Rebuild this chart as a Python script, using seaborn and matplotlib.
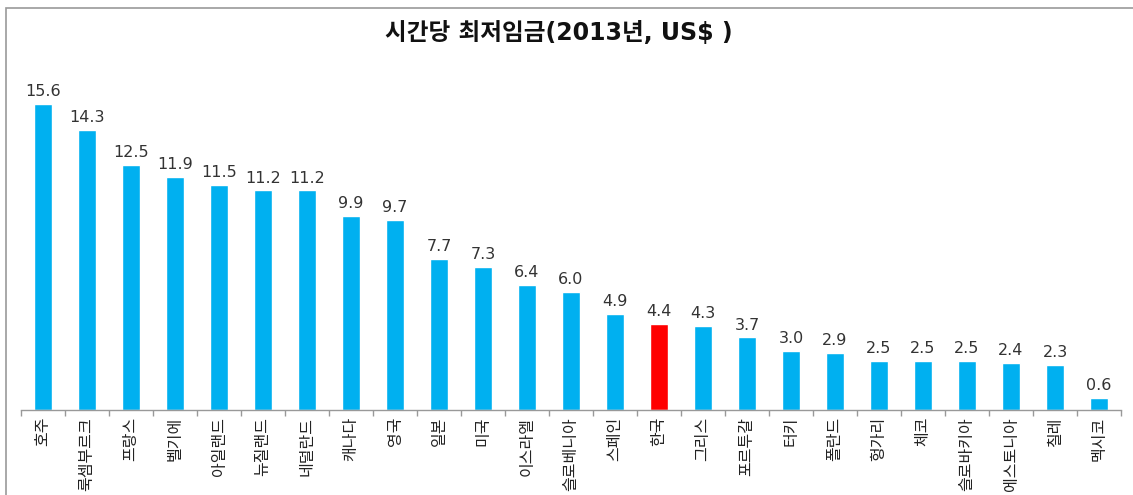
import pandas as pd
import matplotlib.pyplot as plt
import seaborn as sns
from matplotlib.patches import Rectangle

sns.set_theme(style="white")
plt.rcParams['font.family'] = ['DejaVu Sans', 'Noto Sans CJK KR']

countries = ['호주', '룩셈부르크', '프랑스', '벨기에', '아일랜드', '뉴질랜드', '네덜란드',
             '캐나다', '영국', '일본', '미국', '이스라엘', '슬로베니아', '스페인', '한국',
             '그리스', '포르투갈', '터키', '폴란드', '헝가리', '체코', '슬로바키아',
             '에스토니아', '칠레', '멕시코']
wages = [15.6, 14.3, 12.5, 11.9, 11.5, 11.2, 11.2, 9.9, 9.7, 7.7, 7.3, 6.4, 6.0,
         4.9, 4.4, 4.3, 3.7, 3.0, 2.9, 2.5, 2.5, 2.5, 2.4, 2.3, 0.6]
highlight = '한국'

df = pd.DataFrame({'country': countries, 'wage': wages})
colors = ['#FF0000' if c == highlight else '#00B0F0' for c in countries]

fig = plt.figure(figsize=(11.33, 4.95), dpi=100)
ax = fig.add_axes([21 / 1133, 85 / 495, 1100 / 1133, 352.8 / 495])

sns.barplot(data=df, x='country', y='wage', hue='country', palette=colors,
            legend=False, width=0.41, saturation=1, ax=ax)

for i, v in enumerate(wages):
    ax.text(i, v + 0.25, f'{v:.1f}', ha='center', va='bottom',
            fontsize=11.5, color='#333333', fontfamily='DejaVu Sans')

ax.set_xlim(-0.5, len(countries) - 0.5)
ax.set_ylim(0, 18)
ax.set_xlabel('')
ax.set_ylabel('')
ax.set_yticks([])
for s in ['top', 'right', 'left']:
    ax.spines[s].set_visible(False)
ax.spines['bottom'].set_color('#999999')
ax.spines['bottom'].set_linewidth(1)

# tick marks between categories, labels at centres
ax.set_xticks([i - 0.5 for i in range(len(countries) + 1)], minor=True)
ax.tick_params(axis='x', which='minor', length=4, color='#999999', width=1,
               direction='out', bottom=True)
ax.tick_params(axis='x', which='major', length=0, pad=5)
ax.set_xticks(range(len(countries)))
ax.set_xticklabels(countries, rotation=90, fontsize=11.5, color='#222222',
                   va='top', ha='center')

fig.text(0.493, 0.933, '시간당 최저임금(2013년, US$ )', ha='center', va='center',
         fontsize=17, fontweight='bold', color='#111111')

fig.patches.append(Rectangle((6 / 1133, -0.1), 1.2, 0.1 + (495 - 8) / 495,
                             transform=fig.transFigure, fill=False,
                             edgecolor='#999999', linewidth=1.2))

plt.savefig('out.png', dpi=100)
plt.close()
